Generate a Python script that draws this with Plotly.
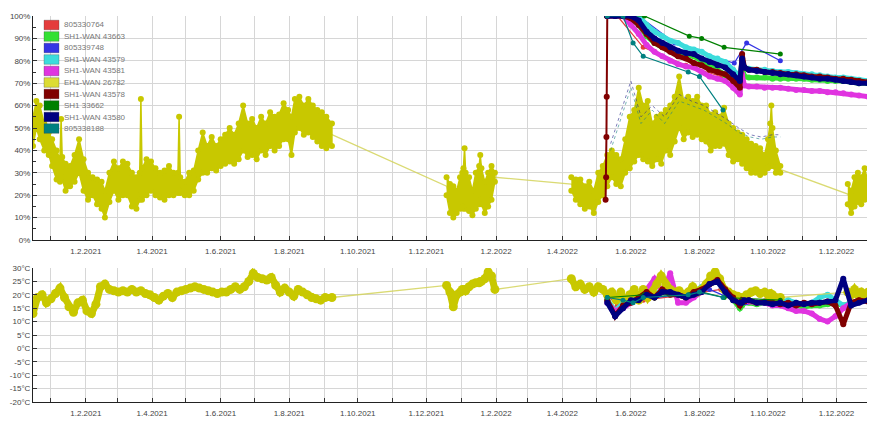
import plotly.graph_objects as go

# ---------------- EH1-WAN 26782 (yellow sensor): humidity band (low/high) ----------------
p1_dates = ["2020-12-16", "2020-12-19", "2020-12-22", "2020-12-26", "2020-12-30", "2021-01-02", "2021-01-06",
            "2021-01-09", "2021-01-10", "2021-01-11", "2021-01-14", "2021-01-18", "2021-01-22", "2021-01-26",
            "2021-01-30", "2021-02-03", "2021-02-07", "2021-02-11", "2021-02-15", "2021-02-18", "2021-02-22",
            "2021-02-26", "2021-03-02", "2021-03-06", "2021-03-10", "2021-03-14", "2021-03-18", "2021-03-21",
            "2021-03-22", "2021-03-23", "2021-03-27", "2021-03-31", "2021-04-04", "2021-04-08", "2021-04-12",
            "2021-04-16", "2021-04-20", "2021-04-24", "2021-04-25", "2021-04-26", "2021-04-30", "2021-05-04",
            "2021-05-08", "2021-05-12", "2021-05-16", "2021-05-20", "2021-05-24", "2021-05-28", "2021-06-01",
            "2021-06-05", "2021-06-09", "2021-06-13", "2021-06-17", "2021-06-21", "2021-06-25", "2021-06-29",
            "2021-07-03", "2021-07-07", "2021-07-11", "2021-07-15", "2021-07-19", "2021-07-23", "2021-07-27",
            "2021-07-31", "2021-08-03", "2021-08-06", "2021-08-10", "2021-08-14", "2021-08-18", "2021-08-22",
            "2021-08-26", "2021-08-30", "2021-09-03", "2021-09-08"]
p1_lo = [42, 50, 45, 40, 38, 33, 27,
         26, 28, 27, 22, 24, 26, 30,
         22, 18, 20, 16, 14, 10, 17,
         22, 18, 20, 20, 15, 14, 18,
         20, 18, 20, 22, 20, 19, 18,
         20, 20, 21, 22, 21, 20, 20,
         22, 27, 30, 30, 32, 31, 33,
         34, 35, 34, 36, 40, 37, 38,
         36, 40, 38, 42, 40, 42, 45,
         45, 38, 48, 50, 47, 48, 46,
         44, 42, 41, 42]
p1_hi = [55, 62, 60, 52, 48, 45, 40,
         36, 54, 37, 34, 33, 38, 45,
         36, 30, 28, 27, 26, 22, 30,
         35, 32, 35, 34, 30, 28, 30,
         63, 32, 36, 35, 32, 30, 31,
         33, 30, 30, 55, 28, 26, 30,
         31, 40, 48, 42, 46, 42, 45,
         47, 50, 47, 52, 60, 52, 54,
         50, 55, 52, 57, 55, 56, 61,
         58, 55, 63, 64, 60, 63, 60,
         58, 57, 55, 52]

p2_dates = ["2021-12-19", "2021-12-22", "2021-12-25", "2021-12-28", "2021-12-31", "2022-01-02", "2022-01-03",
            "2022-01-04", "2022-01-05", "2022-01-08", "2022-01-11", "2022-01-14", "2022-01-17", "2022-01-18",
            "2022-01-19", "2022-01-22", "2022-01-25", "2022-01-28", "2022-01-31"]
p2_lo = [20, 12, 10, 12, 14, 15, 14, 15, 14, 13, 11, 14, 16, 18, 16, 12, 15, 18, 26]
p2_hi = [28, 25, 24, 22, 28, 30, 32, 41, 30, 28, 22, 30, 33, 38, 32, 26, 30, 33, 30]

p3_dates = ["2022-04-09", "2022-04-13", "2022-04-17", "2022-04-21", "2022-04-25", "2022-04-29",
            "2022-05-03", "2022-05-07", "2022-05-11", "2022-05-15", "2022-05-19", "2022-05-23", "2022-05-27", "2022-05-31",
            "2022-06-04", "2022-06-08", "2022-06-12", "2022-06-16", "2022-06-20", "2022-06-24", "2022-06-28",
            "2022-07-02", "2022-07-06", "2022-07-10", "2022-07-14", "2022-07-18", "2022-07-22", "2022-07-26", "2022-07-30",
            "2022-08-03", "2022-08-07", "2022-08-11", "2022-08-15", "2022-08-19", "2022-08-23", "2022-08-27", "2022-08-31",
            "2022-09-04", "2022-09-08", "2022-09-12", "2022-09-16", "2022-09-20", "2022-09-24", "2022-09-28",
            "2022-10-01", "2022-10-03", "2022-10-04", "2022-10-05", "2022-10-08", "2022-10-12"]
p3_lo = [22, 18, 16, 14, 15, 12,
         17, 20, 24, 28, 25, 24, 30, 32,
         35, 38, 36, 35, 33, 36, 34,
         40, 38, 44, 50, 45, 48, 46, 47,
         45, 44, 40, 42, 42, 43, 38, 35,
         36, 34, 32, 30, 30, 29, 30,
         32, 33, 35, 33, 30, 30]
p3_hi = [28, 27, 27, 24, 26, 22,
         30, 33, 38, 40, 38, 36, 45, 55,
         58, 68, 60, 62, 52, 55, 56,
         58, 60, 64, 73, 62, 64, 62, 64,
         60, 60, 56, 57, 55, 59, 52, 50,
         48, 47, 45, 43, 42, 41, 38,
         45, 52, 60, 50, 40, 33]

p4_dates = ["2022-12-11", "2022-12-14", "2022-12-17", "2022-12-20", "2022-12-23", "2022-12-26", "2022-12-29"]
p4_lo = [16, 12, 15, 17, 16, 18, 20]
p4_hi = [25, 22, 28, 30, 28, 32, 26]

# ---------------- EH1-WAN 26782: temperature ----------------
t1_dates = ["2020-12-16", "2020-12-20", "2020-12-24", "2020-12-28", "2021-01-01", "2021-01-05", "2021-01-09",
            "2021-01-13", "2021-01-17", "2021-01-21", "2021-01-25", "2021-01-29", "2021-02-02", "2021-02-06",
            "2021-02-10", "2021-02-14", "2021-02-18", "2021-02-22", "2021-02-26", "2021-03-02", "2021-03-06",
            "2021-03-10", "2021-03-14", "2021-03-18", "2021-03-22", "2021-03-26", "2021-03-30", "2021-04-03",
            "2021-04-07", "2021-04-11", "2021-04-15", "2021-04-19", "2021-04-23", "2021-04-27", "2021-05-01",
            "2021-05-05", "2021-05-09", "2021-05-13", "2021-05-17", "2021-05-21", "2021-05-25", "2021-05-29",
            "2021-06-02", "2021-06-06", "2021-06-10", "2021-06-14", "2021-06-18", "2021-06-22", "2021-06-26",
            "2021-06-30", "2021-07-04", "2021-07-08", "2021-07-12", "2021-07-16", "2021-07-20", "2021-07-24",
            "2021-07-28", "2021-08-01", "2021-08-05", "2021-08-09", "2021-08-13", "2021-08-17", "2021-08-21",
            "2021-08-25", "2021-08-29", "2021-09-02", "2021-09-08"]
t1_vals = [13, 19, 20, 17, 18.5, 20.5, 22.5,
           19, 15.5, 13.5, 17, 18, 14, 13,
           16.5, 23, 24, 22, 21.5, 21, 21.5,
           21, 22, 21, 21.5, 20.5, 20, 19,
           18, 19.5, 20.5, 19, 21, 21.5, 22,
           22.5, 23, 22.5, 22, 21.5, 21, 20.5,
           21, 21, 22, 23, 22, 23, 25,
           28, 26.5, 26, 25.5, 26.5, 23.5, 21,
           22.5, 21, 19.5, 22, 21, 20, 19,
           18.5, 18, 19, 19]
t2_dates = p2_dates
t2_vals = [23.5, 21, 15.5, 20, 21, 22, 21.5, 22, 21.5, 23, 24, 24.5, 24.5, 25, 25, 26, 28.5, 27, 22]
t3_dates = p3_dates
t3_vals = [26, 23, 24, 22, 23, 21,
           23, 22, 20, 21, 18, 21, 17, 20,
           22, 18, 22, 19, 21, 24, 27,
           24, 22, 21, 21.5, 20, 21, 23, 21,
           22, 24, 27, 28.5, 26, 22, 21, 20,
           19.5, 19, 20, 21, 21.5, 20.5, 21,
           20, 20.5, 19.5, 20, 19, 19]
t4_dates = p4_dates
t4_vals = [21, 20, 22, 20, 21, 19.5, 21]

# ---------------- dense SH1-WAN sensors (from May 2022) ----------------
sensor_dates = ["2022-05-11", "2022-05-18", "2022-05-25", "2022-06-01", "2022-06-08", "2022-06-15", "2022-06-22",
                "2022-06-29", "2022-07-06", "2022-07-13", "2022-07-20", "2022-07-27", "2022-08-03", "2022-08-10",
                "2022-08-17", "2022-08-24", "2022-08-31", "2022-09-06", "2022-09-08", "2022-09-10", "2022-09-14",
                "2022-09-21", "2022-09-28", "2022-10-05", "2022-10-12", "2022-10-19", "2022-10-26", "2022-11-02",
                "2022-11-09", "2022-11-16", "2022-11-23", "2022-11-30", "2022-12-07", "2022-12-14", "2022-12-21",
                "2022-12-29"]

ramp_dates = ["2022-05-09 12:00", "2022-05-10 00:00", "2022-05-10 06:00", "2022-05-10 12:00", "2022-05-10 18:00",
              "2022-05-11"]
ramp_hum = [18, 28, 46, 64, 100, 100]

hum_43578 = [100, 100, 100, 99, 96, 92, 88, 86, 84, 82, 81, 79, 78, 76, 75, 74, 71, 68, 83, 77,
             76, 76, 75, 75, 74.5, 74, 74, 73.5, 73, 73, 72.5, 72, 72, 71.5, 71, 70.5]
hum_43579 = [100, 100, 100, 100, 100, 96, 93, 91, 89, 88, 86, 85, 84, 82, 81, 79.5, 76, 73, 80, 77,
             76.5, 76, 76, 75.5, 75, 75, 74.5, 74, 74, 73.5, 73, 72.5, 72.5, 72, 71.5, 71]
hum_43580 = [100, 100, 100, 100, 98, 93, 90, 88, 86, 84.5, 83.5, 83, 81, 79.5, 78, 77, 74, 71, 81, 77,
             76, 75.5, 75, 74.5, 74, 74, 73.5, 73, 72.5, 72, 72, 71.5, 71, 70.5, 70, 70]
hum_43663 = [100, 100, 100, 99, 96, 91, 88, 86, 85, 84, 83, 82, 80, 78, 76, 73.5, 72, 70, 78, 73,
             72.5, 72.5, 72.5, 72, 72, 72, 72, 72, 71.5, 71.5, 71, 71, 71, 70.5, 70, 70]
hum_43581 = [100, 100, 100, 96, 92, 87, 84, 82, 80, 78.5, 77.5, 77, 75, 73, 72, 71, 68, 65, 74, 69,
             68.5, 68.5, 68, 68, 68, 67.5, 67, 67, 66.5, 66.5, 66, 66, 65.5, 65, 64.5, 64]

temp_43578 = [18, 12, 16, 17, 19, 21, 19, 22, 20, 20, 19, 21, 22, 24, 25.5, 22, 19, 16, 18, 17.5,
              18, 17, 17.5, 17, 16.5, 17, 16, 17, 16.5, 17, 17.5, 16, 9, 17, 18, 17.5]
temp_43580 = [17, 12, 15, 18, 18, 20, 19, 21, 21, 20, 19, 20, 21, 24, 25, 21, 18, 17, 17, 18,
              18, 17, 17, 16.5, 17, 16, 17, 16.5, 17, 17, 17.5, 18, 26, 16, 17, 18]
temp_43579 = [18, 14, 17, 18, 19, 21, 20, 22, 21, 20, 20, 21, 23, 24, 25, 21, 19, 17, 18, 18,
              18, 17, 17, 18, 17, 18, 17, 16.5, 17, 19, 20, 18, 16, 17, 18, 18]
temp_43581 = [17, 14, 15, 17, 19, 22, 26, 21, 28, 17, 17, 19, 21, 24, 27, 22, 19, 17, 18, 18,
              17.5, 17, 17, 16, 16, 15, 14, 14, 13, 11, 10, 12, 15, 17, 18, 18]
temp_43663 = [18, 14, 16, 18, 20, 21, 19, 22, 21, 20, 19, 21, 22, 24, 25, 22, 18, 15, 16, 17,
              17, 16.5, 17, 16.5, 17, 16, 16, 15.5, 16, 16, 16.5, 17, 16, 17, 17.5, 18]

# ---------------- sparse sensors ----------------
red_dates = ["2022-05-10 18:00", "2022-05-20", "2022-06-12", "2022-07-20", "2022-08-20"]
red_hum = [100, 100, 86, 78, 73]
red_temp = [20, 16, 18, 20, 22]

blue_dates = ["2022-05-11", "2022-06-08", "2022-07-10", "2022-08-10", "2022-09-01", "2022-09-12", "2022-10-12"]
blue_hum = [100, 100, 88, 82, 79, 88, 80]
blue_temp = [20, 18, 20, 22, 18, 17, 17]

dgreen_dates = ["2022-05-11", "2022-06-13", "2022-07-23", "2022-08-03", "2022-08-23", "2022-10-12"]
dgreen_hum = [100, 100, 91, 90, 86, 83]
dgreen_temp = [19, 20, 20, 21, 19, 18]

teal_dates = ["2022-05-11", "2022-05-25", "2022-06-03", "2022-06-12", "2022-07-22", "2022-08-01", "2022-08-22"]
teal_hum = [100, 100, 88, 82, 75, 73, 58]
teal_temp = [19, 18, 17, 19, 20, 21, 19]

# dotted helper curves (not in legend)
dot_dates = ["2022-05-14", "2022-05-22", "2022-06-01", "2022-06-10", "2022-06-20", "2022-07-01", "2022-07-14",
             "2022-07-25", "2022-08-05", "2022-08-15", "2022-08-25", "2022-09-05", "2022-09-15", "2022-09-25",
             "2022-10-05", "2022-10-12"]
dot_a = [43, 55, 71, 55, 60, 55, 65, 62, 60, 57, 54, 50, 47, 46, 47, 47]
dot_b = [40, 52, 68, 52, 58, 52, 62, 60, 58, 55, 52, 48, 46, 45, 46, 46]

legend_names = ["805330764", "SH1-WAN 43663", "805339748", "SH1-WAN 43579", "SH1-WAN 43581",
                "EH1-WAN 26782", "SH1-WAN 43578", "SH1 33662", "SH1-WAN 43580", "805338188"]
legend_colors = ["#e43c3c", "#33e033", "#3434e4", "#3cdcdc", "#e034e0",
                 "#dcdc34", "#800000", "#008000", "#000080", "#008080"]

hum_ticks = list(range(0, 101, 10))
temp_ticks = list(range(-20, 31, 5))

# ---------------- figure geometry (page has an 8px body margin) ----------------
OFF = 8
W, H = 875 - OFF, 423 - OFF
ML, MR, MT, MB = 33 - OFF, 7, 16 - OFF, 21
PW, PH = W - ML - MR, H - MT - MB
TOP_Y0, BOT_Y1 = 240 - OFF, 268 - OFF
YEL = "#c8c800"
GRID = "#d6d6d6"

fig = go.Figure()


def axes(n):
    return ("x", "y") if n == 1 else ("x2", "y2")


def add(x, y, color, n, width, msize, dash="solid", mode="lines+markers", fill=None):
    xa, ya = axes(n)
    fig.add_trace(go.Scatter(x=x, y=y, mode=mode, xaxis=xa, yaxis=ya, fill=fill,
                             fillcolor=color if fill else None,
                             line=dict(color=color, width=width, dash=dash),
                             marker=dict(color=color, size=msize, line=dict(width=0)),
                             showlegend=False, hoverinfo="skip", connectgaps=False))


C = dict(zip(legend_names, legend_colors))
periods = [(p1_dates, p1_lo, p1_hi), (p2_dates, p2_lo, p2_hi), (p3_dates, p3_lo, p3_hi), (p4_dates, p4_lo, p4_hi)]
temps = [(t1_dates, t1_vals), (t2_dates, t2_vals), (t3_dates, t3_vals), (t4_dates, t4_vals)]

for n in (1, 2):
    hum = n == 1
    add(red_dates, red_hum if hum else red_temp, C["805330764"], n, 1.2, 5)
    add(sensor_dates, hum_43663 if hum else temp_43663, C["SH1-WAN 43663"], n, 5, 6)
    add(blue_dates, blue_hum if hum else blue_temp, C["805339748"], n, 1.2, 5)
    add(sensor_dates, hum_43579 if hum else temp_43579, C["SH1-WAN 43579"], n, 5, 6)
    add(sensor_dates, hum_43581 if hum else temp_43581, C["SH1-WAN 43581"], n, 5, 6)
    # yellow sensor
    if hum:
        mid_x, mid_y = [], []
        for d, lo, hi in periods:
            mid_x += d
            mid_y += [(a + b) / 2 for a, b in zip(lo, hi)]
        add(mid_x, mid_y, "rgba(212,212,90,0.85)", 1, 1.3, 1, mode="lines")
        for d, lo, hi in periods:
            add(d + d[::-1], hi + lo[::-1], YEL, 1, 1.5, 6, fill="toself")
    else:
        all_x, all_y = [], []
        for d, v in temps:
            all_x += d
            all_y += v
        add(all_x, all_y, "rgba(212,212,90,0.85)", 2, 1.3, 1, mode="lines")
        for d, v in temps:
            add(d, v, YEL, 2, 7, 9)
    if hum:
        add(ramp_dates, ramp_hum, C["SH1-WAN 43578"], n, 2, 6)
        add(sensor_dates, hum_43578, C["SH1-WAN 43578"], n, 5, 6)
    else:
        add(sensor_dates, temp_43578, C["SH1-WAN 43578"], n, 5, 6)
    add(dgreen_dates, dgreen_hum if hum else dgreen_temp, C["SH1 33662"], n, 1.2, 5)
    add(sensor_dates, hum_43580 if hum else temp_43580, C["SH1-WAN 43580"], n, 5, 6)
    add(teal_dates, teal_hum if hum else teal_temp, C["805338188"], n, 1.2, 5)

add(dot_dates, dot_a, "rgba(40,40,140,0.6)", 1, 1, 1, dash="dot", mode="lines")
add(dot_dates, dot_b, "rgba(30,130,130,0.6)", 1, 1, 1, dash="dot", mode="lines")

FONT = "Liberation Sans, Arial, sans-serif"
xcommon = dict(type="date", range=["2020-12-16", "2022-12-29"], dtick="M2", tick0="2021-02-01",
               tickformat="%-d.%-m.%Y", showgrid=True, gridcolor=GRID, gridwidth=1,
               ticks="inside", ticklen=4, tickcolor="#333", showline=True, linecolor="#222",
               linewidth=1, zeroline=False, tickfont=dict(size=8, color="#444", family=FONT),
               ticklabelstandoff=3,
               minor=dict(dtick="M1", showgrid=True, gridcolor=GRID, ticks="inside", ticklen=4,
                          tickcolor="#333"),
               automargin=False, fixedrange=True)
ycommon = dict(showgrid=True, gridcolor=GRID, gridwidth=1, ticks="inside", ticklen=4,
               tickcolor="#333", showline=True, linecolor="#222", linewidth=1, zeroline=False,
               tickfont=dict(size=8, color="#444", family=FONT), automargin=False, fixedrange=True)

top_dom = [(H - MB - TOP_Y0) / PH, 1]
bot_dom = [0, (H - MB - BOT_Y1) / PH]

fig.update_layout(
    width=W, height=H, margin=dict(l=ML, r=MR, t=MT, b=MB),
    paper_bgcolor="white", plot_bgcolor="white", showlegend=False,
    font=dict(family=FONT),
    xaxis=dict(**xcommon, anchor="y", domain=[0, 1]),
    xaxis2=dict(**xcommon, anchor="y2", domain=[0, 1]),
    yaxis=dict(**ycommon, domain=top_dom, range=[0, 100], tickvals=hum_ticks,
               ticktext=[f"{v}%" for v in hum_ticks],
               minor=dict(dtick=5, ticks="inside", ticklen=3, tickcolor="#333", showgrid=False)),
    yaxis2=dict(**ycommon, domain=bot_dom, range=[-20, 30], tickvals=temp_ticks,
                ticktext=[f"{v}°C" for v in temp_ticks]),
)

# manual legend (box swatches); positions given in page pixels
shapes, annos = [], []
for i, (name, col) in enumerate(zip(legend_names, legend_colors)):
    cy = 25 + 11.5 * i - OFF
    y0 = (H - MB - (cy + 4.8)) / PH
    y1 = (H - MB - (cy - 4.8)) / PH
    shapes.append(dict(type="rect", xref="paper", yref="paper",
                       x0=(44 - 33) / PW, x1=(59 - 33) / PW, y0=y0, y1=y1,
                       fillcolor=col, line=dict(width=0.6, color="rgba(60,60,60,0.5)"), layer="above"))
    annos.append(dict(xref="paper", yref="paper", x=(62 - 33) / PW, y=(H - MB - cy) / PH,
                      text=name, showarrow=False, xanchor="left", yanchor="middle",
                      font=dict(size=8, color="#777", family=FONT)))
fig.update_layout(shapes=shapes, annotations=annos)

fig.write_html("out.html")
